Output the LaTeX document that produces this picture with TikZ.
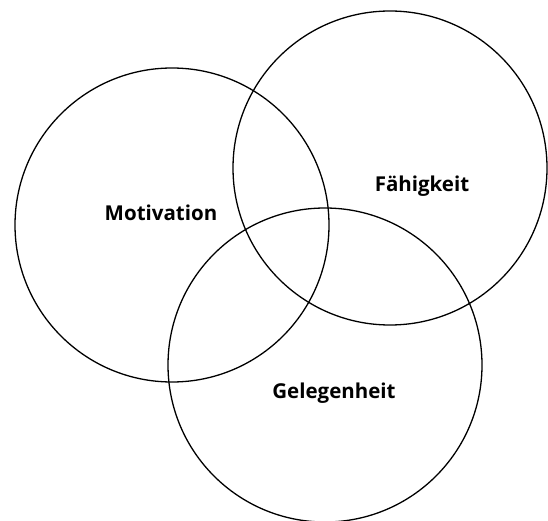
\documentclass[tikz,border=0pt]{standalone}
\usepackage{fontspec}
\setmainfont{Open Sans}
\usepackage{tikz}
\usetikzlibrary{positioning}

\begin{document}
\begin{tikzpicture}[
  x = 1pt,
  y = -1pt,
  ring/.style = {
    draw,
    circle,
    line width = 1.3pt,
    inner sep = 0pt,
    minimum size = 314pt,
  },
  tag/.style = {
    font = \fontsize{20.5}{22}\selectfont\bfseries,
    inner sep = 0pt,
  },
]
  \useasboundingbox (0,0) rectangle (548,521);

  \node[ring] (motivation) at (172,225) {};
  \node[ring] (faehigkeit) at (390,168) {};
  \node[ring] (gelegenheit) at (325,365) {};

  \node[tag] (motivationlabel) at (161,213) {Motivation};
  \node[tag] (faehigkeitlabel) at (422,186) {Fähigkeit};
  \node[tag] (gelegenheitlabel) at (334,393) {Gelegenheit};

\end{tikzpicture}
\end{document}
